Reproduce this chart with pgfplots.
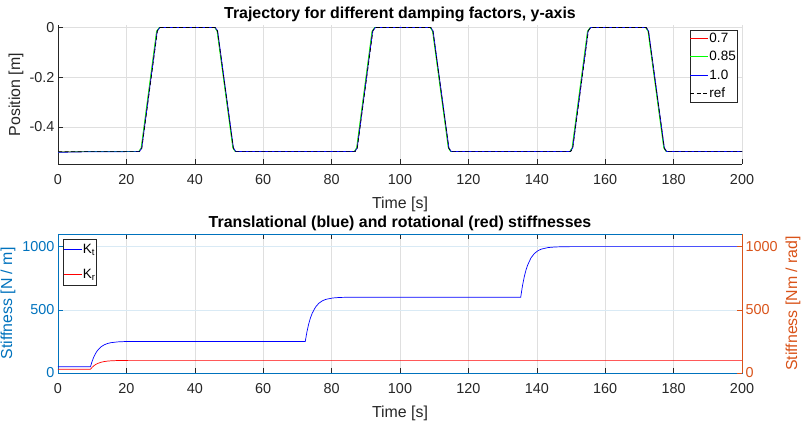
\documentclass[border=0pt]{standalone}
\usepackage{fontspec}
\setmainfont{Liberation Sans}
\usepackage{pgfplots}
\pgfplotsset{compat=1.18}
\definecolor{axgray}{rgb}{0.15,0.15,0.15}
\definecolor{gridgray}{rgb}{0.8725,0.8725,0.8725}
\definecolor{mblue}{rgb}{0,0.447,0.741}
\definecolor{morange}{rgb}{0.85,0.325,0.098}
\definecolor{gridblue}{rgb}{0.85,0.917,0.961}
\definecolor{pblue}{rgb}{0,0,1}
\definecolor{pgreen}{rgb}{0,1,0}
\definecolor{pred}{rgb}{1,0,0}
\newcommand{\tickfont}{\fontsize{14.4}{17}\selectfont}
\newcommand{\labfont}{\fontsize{15.9}{19}\selectfont}
\newcommand{\legfont}{\fontsize{13.5}{16}\selectfont}
\pgfplotsset{
 mstyle/.style={
   scale only axis, width=684pt, height=139pt,
   xmin=0,xmax=200, xtick={0,20,...,200},
   tick align=inside, major tick length=5pt,
   tick style={axgray, line width=0.5pt},
   ticklabel style={font=\tickfont, text=axgray},
   xticklabel style={yshift=-7pt},
   /pgf/number format/assume math mode=true,
   label style={font=\labfont, text=axgray},
   every axis title/.style={font=\labfont\bfseries, at={(axis description cs:0.5,1.078)}, anchor=center},
   xlabel style={at={(axis description cs:0.5,-0.29)}, anchor=center},
   grid=major,
   axis line style={axgray, line width=0.5pt},
   scaled ticks=false,
   legend image code/.code={\draw[#1] (0pt,0pt)--(18pt,0pt);},
   legend cell align=left,
 }
}
\begin{document}
\begin{tikzpicture}
\path[use as bounding box] (0,0) rectangle (806pt,422pt);
% ---------- top ----------
\begin{axis}[mstyle, at={(58pt,258pt)}, anchor=south west,
  ymin=-0.55, ymax=0.01, ytick={-0.4,-0.2,0}, yticklabels={-0.4,-0.2,0},
  axis x line*=bottom, axis y line*=left, x axis line style={-}, y axis line style={-},
  major grid style={gridgray, line width=0.5pt},
  ylabel={Position [m]}, ylabel style={at={(axis description cs:-0.0614,0.5)},anchor=center},
  xlabel={Time [s]},
  title={Trajectory for different damping factors, y-axis},
  legend style={at={(rel axis cs:0.9927,0.964)}, anchor=north east, font=\legfont,
    draw=axgray, line width=0.5pt, fill=white, inner xsep=0pt, inner ysep=1.5pt, row sep=5.5pt,
    nodes={inner sep=1pt}},
]
\addplot[pred, line width=0.7pt] coordinates {(0,-0.502)(8,-0.5)(23.7,-0.5)(24.4,-0.485)(28.9,-0.015)(29.7,0)(45.9,0)(46.6,-0.015)(51.2,-0.485)(51.9,-0.5)(86.7,-0.5)(87.4,-0.485)(91.9,-0.015)(92.7,0)(108.9,0)(109.6,-0.015)(114.2,-0.485)(114.9,-0.5)(149.7,-0.5)(150.4,-0.485)(154.9,-0.015)(155.7,0)(171.9,0)(172.6,-0.015)(177.2,-0.485)(177.9,-0.5)(200,-0.5)};
\addplot[pgreen, line width=0.7pt] coordinates {(0,-0.502)(8,-0.5)(23.6,-0.5)(24.3,-0.485)(28.8,-0.015)(29.6,0)(45.8,0)(46.5,-0.015)(51.1,-0.485)(51.8,-0.5)(86.6,-0.5)(87.3,-0.485)(91.8,-0.015)(92.6,0)(108.8,0)(109.5,-0.015)(114.1,-0.485)(114.8,-0.5)(149.6,-0.5)(150.3,-0.485)(154.8,-0.015)(155.6,0)(171.8,0)(172.5,-0.015)(177.1,-0.485)(177.8,-0.5)(200,-0.5)};
\addplot[pblue, line width=0.7pt] coordinates {(0,-0.503)(8,-0.501)(23.8,-0.5)(24.5,-0.485)(29,-0.015)(29.8,0)(46,0)(46.7,-0.015)(51.3,-0.485)(52,-0.5)(86.8,-0.5)(87.5,-0.485)(92,-0.015)(92.8,0)(109,0)(109.7,-0.015)(114.3,-0.485)(115,-0.5)(149.8,-0.5)(150.5,-0.485)(155,-0.015)(155.8,0)(172,0)(172.7,-0.015)(177.3,-0.485)(178,-0.5)(200,-0.5)};
\addplot[black, line width=0.6pt, dash pattern=on 4pt off 2.5pt] coordinates {(0,-0.5)(23.9,-0.5)(24.5,-0.488)(29.1,-0.012)(29.8,0)(46,0)(46.6,-0.012)(51.3,-0.488)(52,-0.5)(86.9,-0.5)(87.5,-0.488)(92.1,-0.012)(92.8,0)(109,0)(109.6,-0.012)(114.3,-0.488)(115,-0.5)(149.9,-0.5)(150.5,-0.488)(155.1,-0.012)(155.8,0)(172,0)(172.6,-0.012)(177.3,-0.488)(178,-0.5)(200,-0.5)};
\legend{0.7,0.85,1.0,ref}
\end{axis}
% ---------- bottom left ----------
\begin{axis}[mstyle, at={(58pt,49pt)}, anchor=south west,
  ymin=0, ymax=1100, ytick={0,500,1000}, yticklabels={0,500,1000}, ytick pos=left,
  y axis line style={mblue}, yticklabel style={text=mblue}, ytick style={mblue, line width=0.5pt},
  x grid style={gridgray, line width=0.5pt}, y grid style={gridblue, line width=0.5pt},
  ylabel={Stiffness [N / m]}, ylabel style={text=mblue, at={(axis description cs:-0.0731,0.5)}, anchor=center},
  xlabel={Time [s]},
  title={Translational (blue) and rotational (red) stiffnesses},
  legend style={at={(rel axis cs:0.0073,0.964)}, anchor=north west, font=\legfont,
    draw=axgray, line width=0.5pt, fill=white, inner xsep=0pt, inner ysep=4pt, row sep=12pt,
    nodes={inner sep=1pt}},
]
\addplot[pblue, line width=0.7pt] coordinates {(0,50)(9.5,50)(10,94.2)(10.5,128.7)(11,155.5)(11.5,176.4)(12.5,205.4)(13.5,222.9)(14.5,233.6)(15.5,240.0)(17.5,246.3)(19.5,248.7)(21.5,249.5)(24,250)
(72.3,250)(72.8,327.4)(73.3,387.7)(73.8,434.7)(74.3,471.2)(75.3,521.9)(76.3,552.6)(77.3,571.3)(78.3,582.6)(80.3,593.6)(82.3,597.7)(84.3,599.1)(87,600)
(135.3,600)(135.8,688.5)(136.3,757.4)(136.8,811.0)(137.3,852.8)(138.3,910.8)(139.3,945.9)(140.3,967.2)(141.3,980.1)(143.3,992.7)(145.3,997.3)(147.3,999.0)(150,1000)(200,1000)};
\addlegendentry{K\textsubscript{t}}
\addplot[pred, line width=0.7pt] coordinates {(0,30)(9.5,30)(10,45.5)(10.5,57.5)(11,66.9)(11.5,74.2)(12.5,84.4)(13.5,90.5)(14.5,94.3)(15.5,96.5)(17.5,98.7)(19.5,99.5)(22,100)(200,100)};
\addlegendentry{K\textsubscript{r}}
\end{axis}
% ---------- bottom right ----------
\begin{axis}[scale only axis, width=684pt, height=139pt, at={(58pt,49pt)}, anchor=south west,
  xmin=0, xmax=200, ymin=0, ymax=1100,
  axis x line=none, axis y line*=right, y axis line style={morange, line width=0.5pt, -},
  ytick={0,500,1000}, yticklabels={0,500,1000},
  tick align=inside, major tick length=5pt, ytick style={morange, line width=0.5pt},
  yticklabel style={font=\tickfont, text=morange},
  ylabel={Stiffness [Nm / rad]},
  ylabel style={font=\labfont, text=morange, at={(axis description cs:1.0746,0.5)}, anchor=center},
]
\end{axis}
\end{tikzpicture}
\end{document}
